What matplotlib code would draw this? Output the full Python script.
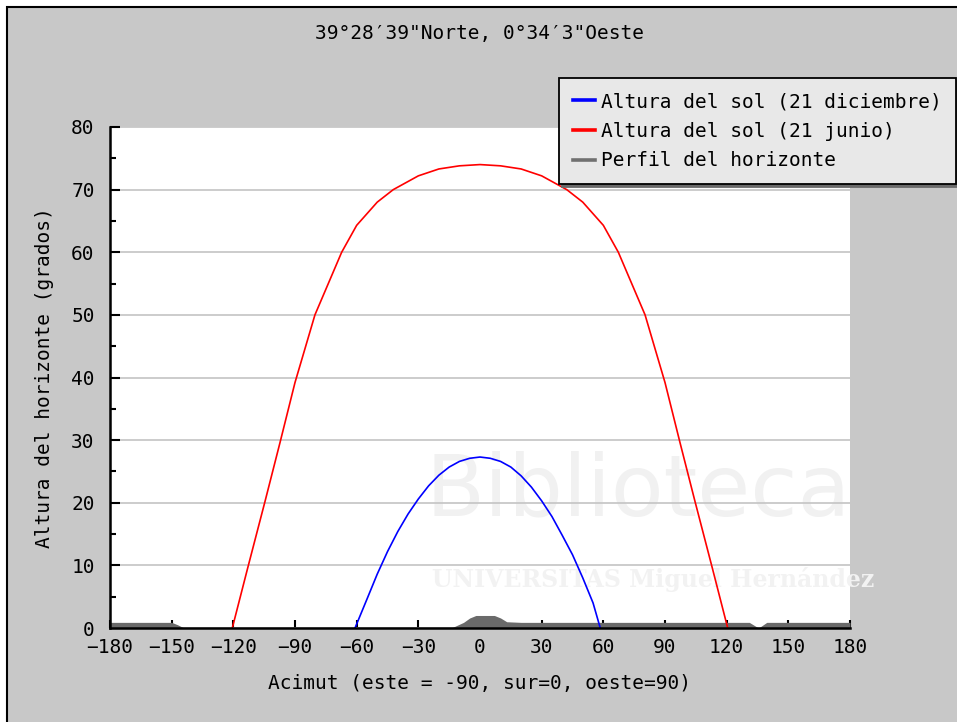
import matplotlib
matplotlib.use("Agg")
import matplotlib.pyplot as plt
from matplotlib.lines import Line2D
from matplotlib.patches import Rectangle

# ---- data ----
az_summer = [-120.5, -113, -104.6, -97.3, -90, -80.3, -67.3, -60, -50, -42.2, -30, -20, -10, 0,
             10, 20, 30, 42.2, 50, 60, 67.3, 80.3, 90, 97.3, 104.6, 113, 120.5]
alt_summer = [0, 9.6, 20.2, 29.6, 39.2, 50, 60, 64.3, 68.0, 70, 72.2, 73.3, 73.8, 74.0,
              73.8, 73.3, 72.2, 70, 68.0, 64.3, 60, 50, 39.2, 29.6, 20.2, 9.6, 0]

az_winter = [-60.8, -55, -50, -45, -40, -35, -30, -25, -20, -15, -10, -5, 0,
             5, 10, 15, 20, 25, 30, 35, 40, 45, 50, 55, 58.5]
alt_winter = [0, 4.6, 8.6, 12.2, 15.4, 18.2, 20.6, 22.7, 24.4, 25.7, 26.6, 27.1, 27.3,
              27.1, 26.6, 25.7, 24.3, 22.5, 20.3, 17.8, 14.8, 11.7, 8.0, 4.0, 0]

az_horizon = [-180, -150, -147, -144, -14, -8, -5, -2, 7, 10, 13, 20, 131, 135.5, 139.5, 150, 180]
alt_horizon = [0.9, 0.9, 0.5, 0, 0, 0.9, 1.6, 2.0, 2.0, 1.6, 1.0, 0.9, 0.9, 0, 0.9, 0.9, 0.9]

x_ticks = [-180, -150, -120, -90, -60, -30, 0, 30, 60, 90, 120, 150, 180]
y_ticks = [0, 10, 20, 30, 40, 50, 60, 70, 80]

title = "39°28′39\"Norte, 0°34′3\"Oeste"
xlabel = "Acimut (este = -90, sur=0, oeste=90)"
ylabel = "Altura del horizonte (grados)"
legend_labels = ["Altura del sol (21 diciembre)", "Altura del sol (21 junio)", "Perfil del horizonte"]

FONT = ["DejaVu Sans Mono", "DejaVu Sans"]
FS = 14
BG = "#c8c8c8"

W, H = 957, 722
fig = plt.figure(figsize=(W / 100, H / 100), dpi=100, facecolor="white")

# grey panel with black border (cropped at right/bottom)
fig.patches.append(Rectangle((7 / W, -0.05), 1.2, 1 - 7 / H + 0.05, transform=fig.transFigure,
                             facecolor=BG, edgecolor="black", linewidth=1.5, zorder=-10))

ax = fig.add_axes([110 / W, (H - 628) / H, 740 / W, 501 / H])
ax.set_facecolor("white")

# faint watermark (drawn under the data)
ax.text(425 / W, 1 - 492 / H, "Biblioteca", fontsize=62, color="#f1f1f1",
        ha="left", va="center", zorder=0.5, family="DejaVu Sans",
        transform=fig.transFigure, clip_on=False)
ax.text(432 / W, 1 - 580 / H, "UNIVERSITAS Miguel Hernández", fontsize=17,
        color="#f2f2f2", ha="left", va="center", zorder=0.5,
        family="DejaVu Serif", fontweight="bold", transform=fig.transFigure, clip_on=False)

ax.fill_between(az_horizon, 0, alt_horizon, color="#6a6a6a", linewidth=0, zorder=2)
ax.plot(az_winter, alt_winter, color="#0000ff", lw=1.2, zorder=3)
ax.plot(az_summer, alt_summer, color="#ff0000", lw=1.2, zorder=3)

ax.set_xlim(-180, 180)
ax.set_ylim(0, 80)
ax.set_xticks(x_ticks)
ax.set_xticklabels([str(v).replace("-", "\u2212") for v in x_ticks])
ax.set_yticks(y_ticks)
ax.set_yticks([5, 15, 25, 35, 45, 55, 65, 75], minor=True)
ax.grid(axis="y", color="#c8c8c8", lw=1.3, zorder=1)
ax.set_axisbelow(True)

for s in ["top", "right"]:
    ax.spines[s].set_visible(False)
for s in ["left", "bottom"]:
    ax.spines[s].set_linewidth(1.8)
    ax.spines[s].set_zorder(4)

ax.tick_params(axis="x", direction="in", length=6, width=1.5, pad=7, labelsize=FS)
ax.tick_params(axis="y", which="major", direction="in", length=7, width=1.5, pad=11, labelsize=FS)
ax.tick_params(axis="y", which="minor", direction="in", length=4.5, width=1.5)
for lab in ax.get_xticklabels() + ax.get_yticklabels():
    lab.set_family(FONT)

fig.text(480 / W, 1 - 33 / H, title, ha="center", va="center", fontsize=FS, family=FONT)
fig.text(480 / W, 1 - 683 / H, xlabel, ha="center", va="center", fontsize=FS, family=FONT)
fig.text(45 / W, 1 - 378 / H, ylabel, ha="center", va="center", rotation=90, fontsize=FS, family=FONT)

handles = [Line2D([], [], color="#0000ff", lw=2.6),
           Line2D([], [], color="#ff0000", lw=2.6),
           Line2D([], [], color="#707070", lw=2.6)]
leg = fig.legend(handles, legend_labels, loc="upper left", bbox_to_anchor=(559 / W, 1 - 78 / H),
                 bbox_transform=fig.transFigure, borderaxespad=0, frameon=True, fancybox=False,
                 shadow={"color": "#6a6a6a", "alpha": 1}, facecolor="#e8e8e8", edgecolor="black",
                 framealpha=1, prop={"family": FONT, "size": FS}, handlelength=1.15,
                 handletextpad=0.3, labelspacing=0.55, borderpad=0.72)
leg.get_frame().set_linewidth(1.3)
leg.set_zorder(10)

fig.savefig("out.png", dpi=100, facecolor=fig.get_facecolor())
